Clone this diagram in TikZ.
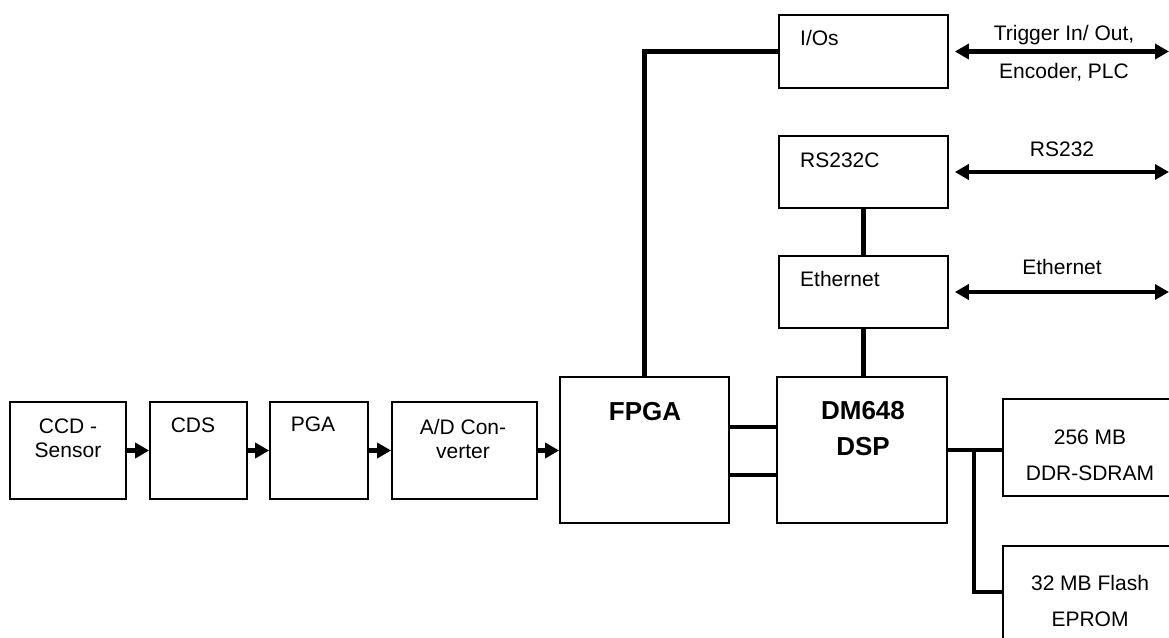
\documentclass[tikz,border=0pt]{standalone}
\usepackage{fontspec}
\setmainfont{Liberation Sans}
\usetikzlibrary{arrows.meta}

\begin{document}
\begin{tikzpicture}[x=1pt,y=-1pt,
  blk/.style={draw,line width=1.7pt,inner sep=0pt},
  wire/.style={line width=4.2pt},
  chain/.style={line width=4.2pt,-{Triangle[length=14pt,width=15pt]}},
  bus/.style={line width=4.2pt,{Triangle[length=14pt,width=15pt]}-{Triangle[length=14pt,width=15pt]}},
  lbl/.style={inner sep=0pt,align=center,font=\fontsize{21}{24}\selectfont},
  hdr/.style={inner sep=0pt,align=center,font=\fontsize{26}{36}\selectfont\bfseries}]
\path[use as bounding box] (0,0) rectangle (1169,637);
\coordinate (rim) at (1169,0);
% signal chain
\node[blk,minimum width=116pt,minimum height=97pt] (ccd) at (68,450.5) {};
\node[lbl] (ccdtxt) at (68,438) {CCD -\\Sensor};
\node[blk,minimum width=97pt,minimum height=97pt] (cds) at (198.5,450.5) {};
\node[lbl,anchor=base] (cdstxt) at (193,432.5) {CDS};
\node[blk,minimum width=98pt,minimum height=97pt] (pga) at (319,450.5) {};
\node[lbl,anchor=base] (pgatxt) at (313,431.5) {PGA};
\node[blk,minimum width=145pt,minimum height=97pt] (adc) at (464.5,450.5) {};
\node[lbl] (adctxt) at (463,438.5) {A/D Con-\\verter};
\draw[chain] (ccd.east) -- (cds.west);
\draw[chain] (cds.east) -- (pga.west);
\draw[chain] (pga.east) -- (adc.west);
% processing
\node[blk,minimum width=169pt,minimum height=146pt] (fpga) at (644.5,450) {};
\node[hdr,anchor=base] (fpgatxt) at (645,420.5) {FPGA};
\node[blk,minimum width=170pt,minimum height=146pt] (dsp) at (862,450) {};
\node[hdr] (dsptxt) at (863,429) {DM648\\DSP};
\draw[chain] (adc.east) -- (adc.east -| fpga.west);
\draw[wire] ([yshift=23pt]fpga.east) -- ([yshift=23pt]fpga.east -| dsp.west);
\draw[wire] ([yshift=-25pt]fpga.east) -- ([yshift=-25pt]fpga.east -| dsp.west);
% interfaces
\node[blk,minimum width=169pt,minimum height=73pt] (ios) at (863.5,51.5) {};
\node[lbl,anchor=base west] (iostxt) at (800,45.5) {I/Os};
\node[blk,minimum width=169pt,minimum height=72pt] (rs) at (863.5,172) {};
\node[lbl,anchor=base west] (rstxt) at (800,167.5) {RS232C};
\node[blk,minimum width=169pt,minimum height=72pt] (eth) at (863.5,292) {};
\node[lbl,anchor=base west] (ethtxt) at (800,286.5) {Ethernet};
\draw[wire] (fpga.north) |- (ios.west);
\draw[wire] (rs.south) -- (eth.north);
\draw[wire] (eth.south) -- (eth.south |- dsp.north);
\draw[bus] ([xshift=6pt]ios.east) -- (ios.east -| rim);
\draw[bus] ([xshift=6pt]rs.east) -- (rs.east -| rim);
\draw[bus] ([xshift=6pt]eth.east) -- (eth.east -| rim);
\node[lbl,inner sep=0pt,font=\fontsize{21}{38}\selectfont] (trigtxt) at (1064,53.4) {Trigger In/ Out,\\Encoder, PLC};
\node[lbl,anchor=base] (rstxt2) at (1062,156.5) {RS232};
\node[lbl,anchor=base] (ethtxt2) at (1062,274.5) {Ethernet};
% memory
\node[blk,minimum width=177pt,minimum height=97pt] (ram) at (1091.5,447.5) {};
\node[lbl,font=\fontsize{21}{36}\selectfont] (ramtxt) at (1090,455) {256 MB\\DDR-SDRAM};
\node[blk,minimum width=177pt,minimum height=100pt] (flash) at (1091.5,596) {};
\node[lbl,font=\fontsize{21}{36}\selectfont] (flashtxt) at (1090,601) {32 MB Flash\\EPROM};
\coordinate (fork) at (974,450);
\draw[wire] (dsp.east) -- (dsp.east -| ram.west);
\draw[wire] (fork) |- ([yshift=4pt]flash.west);
\end{tikzpicture}
\end{document}
